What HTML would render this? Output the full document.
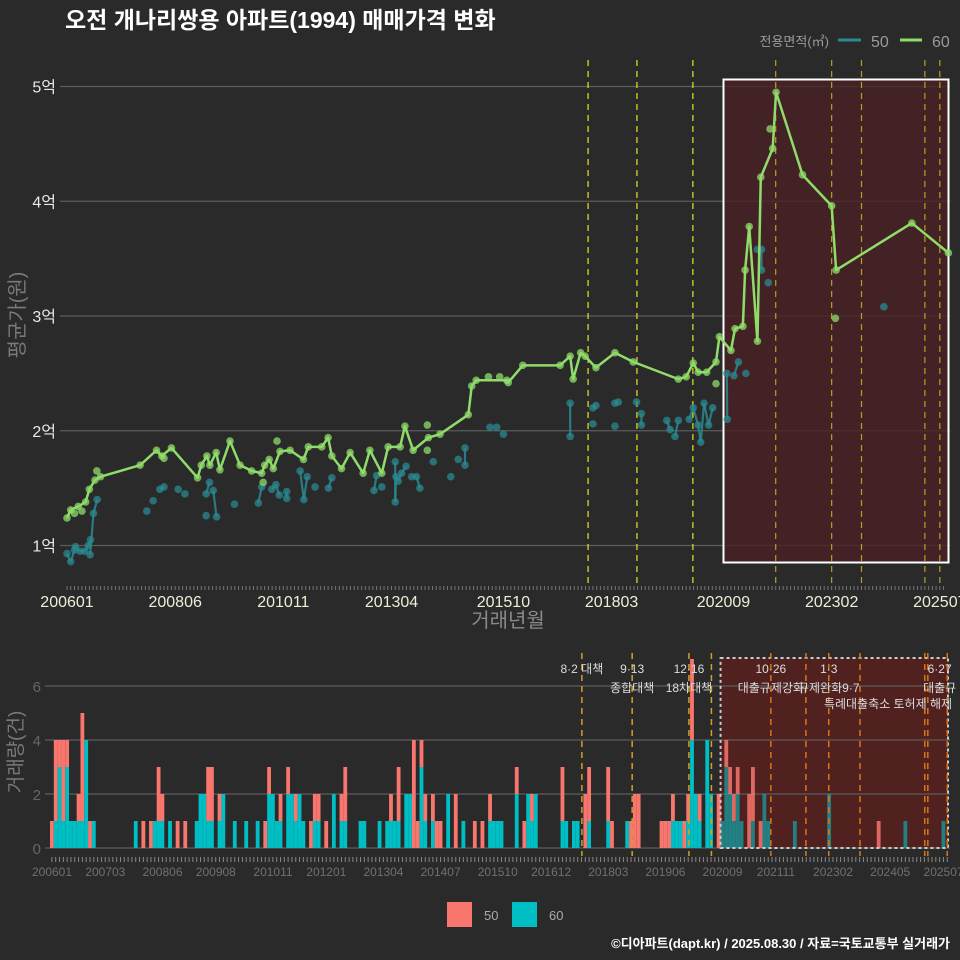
<!DOCTYPE html>
<html><head><meta charset="utf-8">
<style>
html,body{margin:0;padding:0;background:#2a2a2b;}
svg{display:block;font-family:"Liberation Sans","Noto Sans CJK KR",sans-serif;}
</style></head>
<body>
<svg id="chart" width="960" height="960" viewBox="0 0 960 960">
<rect x="0" y="0" width="960" height="960" fill="#2a2a2b"/>
<text x="65" y="28" fill="#ffffff" font-size="23" font-weight="bold">오전 개나리쌍용 아파트(1994) 매매가격 변화</text>
<g id="legend-top">
<text x="829" y="46" fill="#9a9a9a" font-size="13" text-anchor="end">전용면적(㎡)</text>
<line x1="838" y1="40" x2="861" y2="40" stroke="#2a8a90" stroke-width="3"/>
<text x="871" y="47" fill="#9a9a9a" font-size="16">50</text>
<line x1="900" y1="40" x2="922" y2="40" stroke="#8fdc6a" stroke-width="3"/>
<text x="932" y="47" fill="#9a9a9a" font-size="16">60</text>
</g>
<g id="topPanel"></g>
<g id="botPanel"></g>
<g>
<rect x="447" y="902" width="25" height="25" fill="#f8766d"/>
<text x="484" y="920" fill="#aaaaaa" font-size="13">50</text>
<rect x="512" y="902" width="25" height="25" fill="#00bfc4"/>
<text x="549" y="920" fill="#aaaaaa" font-size="13">60</text>
</g>
<text x="950" y="948" fill="#ffffff" font-size="13" font-weight="bold" text-anchor="end">©디아파트(dapt.kr) / 2025.08.30 / 자료=국토교통부 실거래가</text>
</svg>
<script>
// ---- data (month index from 2006-01, value in 억) ----
const line60Months = [0,1,3,5,6,7.5,9,19.6,24,25.4,28,35,36,37.5,38.3,40,41,43.7,46.4,49.5,52.2,53,54.2,55.3,57.1,59.8,63.4,64.7,68.3,70,71,73.6,75.9,79.4,81.2,84.4,86.1,89.3,90.6,92.8,96.9,100,107.6,108.5,109.7,117.9,118.3,122.2,132.2,134.9,135.7,137.7,138.9,141.8,146.9,151.8,163.9,166,167.9,169.2,171.5,174,174.9,178,179.1,181.2,181.8,182.9,185.1,186,189.2,190.1,197.2,205,206.2,226.5,236.3];
const line60Values = [1.24,1.31,1.34,1.38,1.49,1.57,1.60,1.70,1.83,1.78,1.85,1.59,1.70,1.78,1.70,1.81,1.66,1.91,1.70,1.65,1.63,1.70,1.75,1.67,1.82,1.83,1.75,1.86,1.86,1.94,1.78,1.67,1.81,1.63,1.83,1.63,1.86,1.86,2.04,1.83,1.94,1.97,2.14,2.39,2.44,2.44,2.42,2.57,2.57,2.65,2.45,2.68,2.65,2.55,2.68,2.60,2.45,2.47,2.59,2.51,2.51,2.60,2.82,2.70,2.89,2.91,3.40,3.78,2.78,4.21,4.46,4.95,4.23,3.96,3.40,3.81,3.55];
const extra60Months = [2,4,8,26,52.6,56.3,96.6,96.6,113,116,174,206,188.5];
const extra60Values = [1.28,1.30,1.65,1.76,1.55,1.91,2.05,1.83,2.47,2.47,2.41,2.98,4.63];
const pts50Months = [0,1,2,2.3,3.5,4.8,5.7,6.3,6.2,7.1,8.1,21.4,23.1,24.9,26,29.8,31.6,37.3,38.2,37.3,39.2,40.1,44.9,51.3,52.2,54.9,56,56.9,58.9,58.9,62.5,63.5,64.4,66.5,70.1,71,82.3,83,84.4,88,88,88.2,88.8,89.7,90.9,92.4,93.7,94.6,98.2,102.9,104.9,106.7,106.7,113.4,115.2,117,134.9,134.9,141,141.8,141,146.9,147.8,146.9,152.7,154,154,160.8,161.7,163,163.9,166.8,167.9,169.2,169.9,170.8,172,173.1,176.9,177,178.8,180,182,185.1,186.2,186.2,188,219];
const pts50Values = [0.93,0.86,0.96,0.99,0.95,0.95,1.0,1.05,0.92,1.28,1.40,1.30,1.39,1.49,1.51,1.49,1.45,1.45,1.55,1.26,1.48,1.25,1.36,1.37,1.51,1.49,1.53,1.44,1.47,1.41,1.65,1.40,1.60,1.51,1.50,1.59,1.48,1.61,1.51,1.73,1.38,1.60,1.56,1.63,1.69,1.60,1.60,1.50,1.73,1.60,1.75,1.70,1.85,2.03,2.03,1.97,2.24,1.95,2.20,2.22,2.06,2.24,2.25,2.04,2.25,2.15,2.05,2.09,2.01,1.95,2.09,2.10,2.20,2.05,1.90,2.24,2.05,2.20,2.50,2.10,2.48,2.60,2.50,3.58,3.58,3.40,3.29,3.08];
const yTickValues = [1,2,3,4,5];
const yTickLabels = ['1억','2억','3억','4억','5억'];
const topXTickMonths = [0,29,58,87,117,146,176,205,234];
const topXTickLabels = ['200601','200806','201011','201304','201510','201803','202009','202302','202507'];
const topPolicyMonths = [139.7,152.8,167.8,190,205,213,230,234];
// volume: [month, count50, count60]
const volMonths = [0,1,2,3,4,5,6,7,8,9,10,11,22,24,26,27,28,29,31,33,35,38,39,40,41,42,44,45,48,51,54,56,57,58,59,60,62,63,64,65,66,68,69,70,72,74,76,77,81,82,86,88,89,90,91,93,94,95,96,97,98,100,101,102,104,106,108,111,113,115,116,117,118,122,124,125,126,127,134,135,137,138,140,141,146,147,151,152,153,154,160,161,162,163,164,165,166,167,168,169,170,172,173,175,176,177,178,179,180,181,183,184,186,187,188,195,204,217,224,234];
const vol50 = [1,3,1,3,1,0,0,1,4,0,1,0,0,1,1,0,2,1,0,1,1,0,0,0,2,2,1,0,0,0,0,1,1,0,0,1,1,0,1,0,0,1,1,1,1,0,1,2,0,0,0,0,1,0,2,0,0,4,1,1,1,1,1,1,0,2,0,1,1,1,0,0,0,1,1,0,1,0,2,0,0,0,2,2,2,1,0,1,2,2,1,1,1,1,0,0,1,1,3,0,1,0,0,2,0,1,1,1,1,0,2,2,1,0,0,0,0,1,0,0];
const vol60 = [0,1,3,1,3,1,1,1,1,4,0,1,1,0,0,1,1,1,1,0,0,1,2,2,1,1,1,2,1,1,1,0,2,2,1,1,2,2,1,2,1,0,1,1,0,2,1,1,1,1,1,1,1,1,1,2,2,0,0,3,1,1,0,0,2,0,1,0,0,1,1,1,1,2,0,2,1,2,1,1,1,1,0,1,1,0,1,0,0,0,0,0,0,1,1,1,0,1,4,2,1,4,2,0,1,3,2,1,2,1,0,1,0,2,1,1,2,0,1,1];
const volTickValues = [0,2,4,6];
const botXTickMonths = [0,14,29,43,58,72,87,102,117,131,146,161,176,190,205,220,234];
const botXTickLabels = ['200601','200703','200806','200908','201011','201201','201304','201407','201510','201612','201803','201906','202009','202111','202302','202405','202507'];
const botPolicyMonths = [139.6,152.8,167.7,173.6,189.2,198.4,204.4,212.6,229.6,230.4,235.5];
const annoMonths = [139.6,152.8,167.7,189.2,204.4,233.5];
const annoTop = ['8·2 대책','9·13','12·16','10·26','1·3','6·27'];
const annoBottom = ['','종합대책','18차대책','대출규제강화','규제완화9·7','대출규'];

// ---- scales ----
const NS='http://www.w3.org/2000/svg';
function mk(parent,tag,attrs){const e=document.createElementNS(NS,tag);for(const k in attrs)e.setAttribute(k,attrs[k]);parent.appendChild(e);return e;}
const tx = m => 67 + m*3.73;
const ty = v => 545.5 - (v-1)*114.75;
const bx = m => 50 + m*3.81;
const by = n => 848 - n*27;

const topG=document.getElementById('topPanel');
const botG=document.getElementById('botPanel');

// top panel grid
yTickValues.forEach((v,i)=>{
  const g=mk(topG,'line',{x1:60,x2:950,y1:ty(v),y2:ty(v),stroke:'#5c5c5c','stroke-width':1.2});
  
  
  const t=mk(topG,'text',{x:56,y:ty(v)+6,fill:'#e8e8e8','font-size':16,'text-anchor':'end'});
  t.textContent=yTickLabels[i];
  
  
});
// highlight region
const reg=mk(topG,'rect',{x:723.5,y:79.5,width:225,height:483,fill:'#4a2024','fill-opacity':0.8,stroke:'#ffffff','stroke-width':2});


// policy lines
topPolicyMonths.forEach((m,i)=>{
  const inside = m>175;
  const l=mk(topG,'line',{x1:tx(m),x2:tx(m),y1:60,y2:588,stroke:inside?'#b8a020':'#e6e620','stroke-width':1.2,'stroke-dasharray':'6,5'});
  
  
});
// x ticks
for(let m=0;m<=235;m++){
  const t=mk(topG,'line',{x1:tx(m),x2:tx(m),y1:586,y2:590,stroke:'#777','stroke-width':1});
  
  
}
topXTickMonths.forEach((m,i)=>{
  const t=mk(topG,'text',{x:tx(m),y:607,fill:'#eeeed8','font-size':16,'text-anchor':'middle'});
  t.textContent=topXTickLabels[i];
  
  
});
const xt=mk(topG,'text',{x:508,y:627,fill:'#8a8a8a','font-size':20,'text-anchor':'middle'});
xt.textContent='거래년월';


const yt=mk(topG,'text',{x:0,y:0,fill:'#7a7a7a','font-size':20,'text-anchor':'middle',transform:'translate(24,315) rotate(-90)'});
yt.textContent='평균가(원)';



// series 50 lines (connect consecutive months only)
for(let i=1;i<pts50Months.length;i++){
  if(pts50Months[i]-pts50Months[i-1]<=1.3 && pts50Months[i]>=pts50Months[i-1]){
    const l=mk(topG,'line',{x1:tx(pts50Months[i-1]),y1:ty(pts50Values[i-1]),x2:tx(pts50Months[i]),y2:ty(pts50Values[i]),stroke:'#2a8a90','stroke-width':2.2,'stroke-opacity':0.85});
    
    
  }
}
pts50Months.forEach((m,i)=>{
  const c=mk(topG,'circle',{cx:tx(m),cy:ty(pts50Values[i]),r:3.8,fill:'#2a8a90','fill-opacity':0.75});
  
  
});
// series 60
const poly=mk(topG,'polyline',{points:line60Months.map((m,i)=>tx(m)+','+ty(line60Values[i])).join(' '),fill:'none',stroke:'#8fdc6a','stroke-width':2.5,'stroke-linejoin':'round'});


line60Months.forEach((m,i)=>{
  const c=mk(topG,'circle',{cx:tx(m),cy:ty(line60Values[i]),r:3.8,fill:'#8fdc6a','fill-opacity':0.75});
  
  
});
extra60Months.forEach((m,i)=>{
  const c=mk(topG,'circle',{cx:tx(m),cy:ty(extra60Values[i]),r:3.8,fill:'#8fdc6a','fill-opacity':0.75});
  
  
});

// ---- bottom panel ----
const breg=mk(botG,'rect',{x:bx(176),y:658,width:948-bx(176),height:190,fill:'#55201f','fill-opacity':0.9});


volTickValues.forEach(v=>{
  const g=mk(botG,'line',{x1:45,x2:950,y1:by(v),y2:by(v),stroke:'#5c5c5c','stroke-width':1.2});
  
  
  const t=mk(botG,'text',{x:41,y:by(v)+6,fill:'#666','font-size':15,'text-anchor':'end'});
  t.textContent=String(v);
  
  
});
volMonths.forEach((m,i)=>{
  const w=3.81;
  if(vol60[i]>0){
    const r=mk(botG,'rect',{x:bx(m),y:by(vol60[i]),width:w,height:vol60[i]*27,fill:'#00bfc4','fill-opacity':m>=176?0.6:1});
    
    
  }
  if(vol50[i]>0){
    const r=mk(botG,'rect',{x:bx(m),y:by(vol60[i]+vol50[i]),width:w,height:vol50[i]*27,fill:'#f8766d','fill-opacity':m>=176?0.85:1});
    
    
  }
});
const bb=mk(botG,'rect',{x:bx(176),y:658,width:948-bx(176),height:190,fill:'none',stroke:'#cccccc','stroke-width':2,'stroke-dasharray':'3,3'});


botPolicyMonths.forEach(m=>{
  const l=mk(botG,'line',{x1:bx(m),x2:bx(m),y1:653,y2:856,stroke:m>175?'#d87818':'#d4a020','stroke-width':1.5,'stroke-dasharray':'6,5'});
  
  
});
annoMonths.forEach((m,i)=>{
  const t=mk(botG,'text',{x:bx(m),y:673,fill:'#dddddd','font-size':12,'text-anchor':'middle'});
  t.textContent=annoTop[i];
  
  
  if(annoBottom[i]){
    const t2=mk(botG,'text',{x:bx(m),y:692,fill:'#dddddd','font-size':12,'text-anchor':'middle'});
    t2.textContent=annoBottom[i];
    
    
  }
});
const a3=mk(botG,'text',{x:888,y:708,fill:'#dddddd','font-size':12,'text-anchor':'middle'});
a3.textContent='특례대출축소 토허제 해제';


for(let m=0;m<=235;m++){
  const t=mk(botG,'line',{x1:bx(m)+1.9,x2:bx(m)+1.9,y1:857,y2:862,stroke:'#888','stroke-width':1});
  
  
}
botXTickMonths.forEach((m,i)=>{
  const t=mk(botG,'text',{x:bx(m)+2,y:876,fill:'#707070','font-size':12,'text-anchor':'middle'});
  t.textContent=botXTickLabels[i];
  
  
});
const vt=mk(botG,'text',{x:0,y:0,fill:'#7a7a7a','font-size':19,'text-anchor':'middle',transform:'translate(22,752) rotate(-90)'});
vt.textContent='거래량(건)';


</script>
</body></html>
